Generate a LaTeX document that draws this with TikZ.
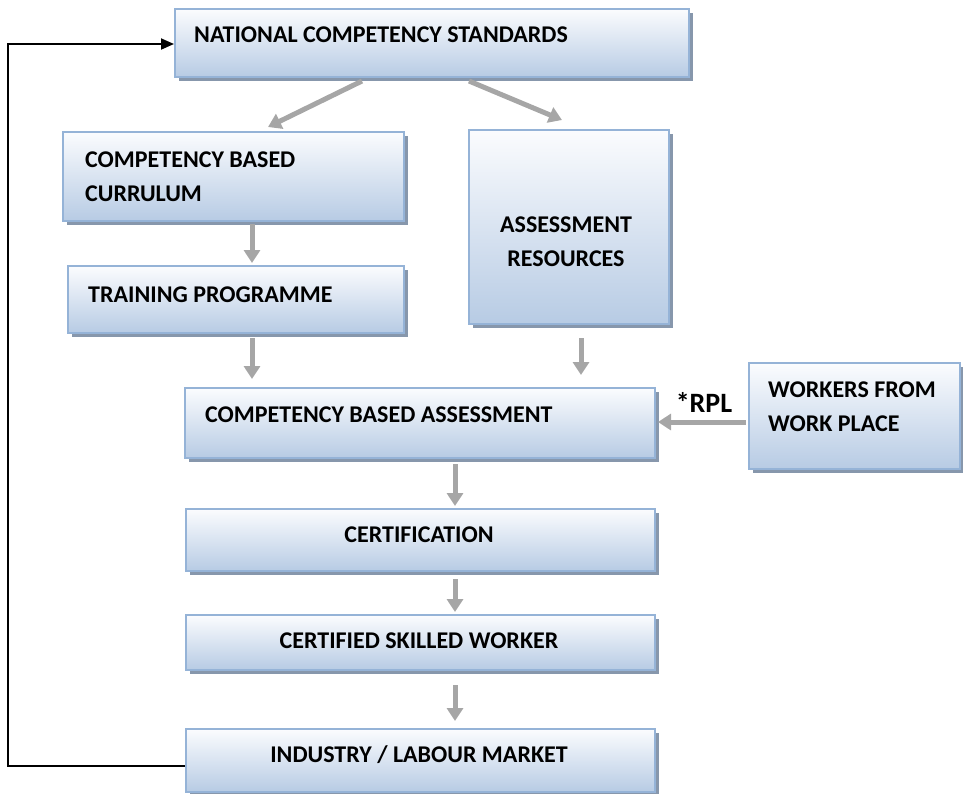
\documentclass[tikz,border=0pt]{standalone}
\usepackage{fontspec}
\setmainfont{Carlito}
\usetikzlibrary{arrows.meta,shadows}
\definecolor{boxline}{HTML}{95B3D7}
\definecolor{boxtop}{HTML}{FBFCFE}
\definecolor{boxbot}{HTML}{B7CBE4}
\definecolor{boxshade}{HTML}{8797AC}
\definecolor{flow}{HTML}{A6A6A6}
\tikzset{
  box/.style={draw=boxline, line width=2pt, anchor=north west, inner sep=0pt,
    top color=boxtop, bottom color=boxbot,
    drop shadow={shadow xshift=4pt, shadow yshift=-4pt, fill=boxshade, opacity=1}},
  lbl/.style={inner sep=0pt, font=\fontsize{24}{34}\selectfont\bfseries},
  flowarrow/.style={draw=flow, line width=5pt, -{Triangle[width=16pt,length=13pt]}},
  loopline/.style={draw=black, line width=1.8pt, -{Triangle[width=11pt,length=13pt]}}
}
\begin{document}
\begin{tikzpicture}[x=1pt,y=-1pt]
\useasboundingbox (0,0) rectangle (963,793);

% boxes
\node[box, minimum width=514pt, minimum height=68pt]  (ncs)  at (174,8)   {};
\node[box, minimum width=341pt, minimum height=89pt]  (cbc)  at (62,131)  {};
\node[box, minimum width=336pt, minimum height=67pt]  (tp)   at (67,265)  {};
\node[box, minimum width=200pt, minimum height=194pt] (ar)   at (468,129) {};
\node[box, minimum width=470pt, minimum height=70pt]  (cba)  at (184,387) {};
\node[box, minimum width=211pt, minimum height=106pt] (wfwp) at (748,362) {};
\node[box, minimum width=469pt, minimum height=62pt]  (cert) at (185,508) {};
\node[box, minimum width=469pt, minimum height=55pt]  (csw)  at (185,614) {};
\node[box, minimum width=469pt, minimum height=63pt]  (ilm)  at (185,728) {};

% texts (multi-line nodes are anchored on their last baseline)
\node[lbl, anchor=base west] (ncs-t) at (194,42) {NATIONAL COMPETENCY STANDARDS};
\node[lbl, anchor=base west, align=left] (cbc-t) at (85,201) {COMPETENCY BASED\\CURRULUM};
\node[lbl, anchor=base west] (tp-t) at (88,302) {TRAINING PROGRAMME};
\node[lbl, anchor=base, align=center] (ar-t) at (566,266) {ASSESSMENT\\RESOURCES};
\node[lbl, anchor=base west] (cba-t) at (205,422) {COMPETENCY BASED ASSESSMENT};
\node[lbl, anchor=base west, align=left] (wfwp-t) at (768,431) {WORKERS FROM\\WORK PLACE};
\node[lbl, anchor=base] (cert-t) at (419,542) {CERTIFICATION};
\node[lbl, anchor=base] (csw-t) at (419,648) {CERTIFIED SKILLED WORKER};
\node[lbl, anchor=base] (ilm-t) at (419,762) {INDUSTRY / LABOUR MARKET};
\node[inner sep=0pt, font=\fontsize{28}{32}\selectfont\bfseries, anchor=base] (rpl) at (704,412) {*RPL};

% grey flow arrows
\draw[flowarrow] ([shift={(188,3)}]ncs.south west) -- ([shift={(206,-4)}]cbc.north west);
\draw[flowarrow] ([shift={(295,3)}]ncs.south west) -- ([shift={(94,-9)}]ar.north west);
\draw[flowarrow] ([shift={(190,2)}]cbc.south west) -- ([shift={(190,-2)}]cbc.south west |- tp.north);
\draw[flowarrow] ([shift={(185,4)}]tp.south west) -- ([shift={(185,-8)}]tp.south west |- cba.north);
\draw[flowarrow] ([shift={(113,13)}]ar.south west) -- ([shift={(113,-12)}]ar.south west |- cba.north);
\draw[flowarrow] ([shift={(271,5)}]cba.south west) -- ([shift={(270,-2)}]cert.north west);
\draw[flowarrow] ([shift={(270,7)}]cert.south west) -- ([shift={(270,-2)}]csw.north west);
\draw[flowarrow] ([shift={(270,14)}]csw.south west) -- ([shift={(270,-7)}]ilm.north west);
\draw[flowarrow] ([shift={(-2,60)}]wfwp.north west) -- ([shift={(2,35)}]cba.north east);

% feedback loop
\draw[loopline] ([shift={(0,38)}]ilm.north west) -- ++(-177,0) |- ([shift={(0,36)}]ncs.north west);
\end{tikzpicture}
\end{document}
